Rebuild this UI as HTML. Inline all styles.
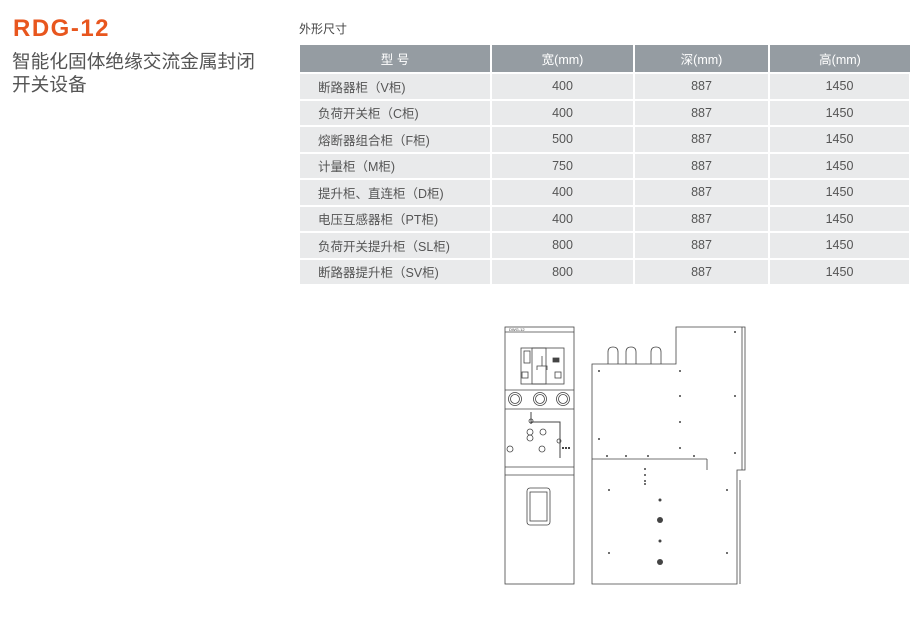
<!DOCTYPE html>
<html><head><meta charset="utf-8"><style>
body{margin:0;width:920px;height:618px;background:#fff;position:relative;overflow:hidden;font-family:"Liberation Sans","Noto Sans CJK SC",sans-serif;}
.t1{position:absolute;left:13px;top:15px;font-size:24px;font-weight:bold;color:#e8561e;letter-spacing:1.5px;}
.t2{position:absolute;left:12px;top:50px;font-size:18.7px;color:#555;line-height:23px;white-space:nowrap;}
.t3{position:absolute;left:299px;top:20px;font-size:12px;color:#444;}
table{position:absolute;left:300px;top:45px;border-collapse:collapse;font-size:12.5px;color:#555;}
td,th{height:24.5px;padding:0;border:2px solid #fff;border-top:0;border-left:0;text-align:center;background:#e9eaeb;}
th{background:#959ca2;color:#fff;font-weight:normal;height:27px;}
td.l{text-align:left;padding-left:18px;}
</style></head><body>
<div class="t1">RDG-12</div>
<div class="t2">智能化固体绝缘交流金属封闭<br>开关设备</div>
<div class="t3">外形尺寸</div>
<table>
<tr><th style="width:190px">型 号</th><th style="width:141px">宽(mm)</th><th style="width:133px">深(mm)</th><th style="width:140px;border-right:0">高(mm)</th></tr>
<tr><td class="l">断路器柜（V柜)</td><td>400</td><td>887</td><td>1450</td></tr>
<tr><td class="l">负荷开关柜（C柜)</td><td>400</td><td>887</td><td>1450</td></tr>
<tr><td class="l">熔断器组合柜（F柜)</td><td>500</td><td>887</td><td>1450</td></tr>
<tr><td class="l">计量柜（M柜)</td><td>750</td><td>887</td><td>1450</td></tr>
<tr><td class="l">提升柜、直连柜（D柜)</td><td>400</td><td>887</td><td>1450</td></tr>
<tr><td class="l">电压互感器柜（PT柜)</td><td>400</td><td>887</td><td>1450</td></tr>
<tr><td class="l">负荷开关提升柜（SL柜)</td><td>800</td><td>887</td><td>1450</td></tr>
<tr><td class="l">断路器提升柜（SV柜)</td><td>800</td><td>887</td><td>1450</td></tr>
</table>
<svg width="920" height="618" style="position:absolute;left:0;top:0" fill="none" stroke="#444" stroke-width="0.8">
<rect x="505" y="327" width="69" height="257"/>
<line x1="505" y1="332" x2="574" y2="332"/>
<text x="509" y="331" font-size="4" fill="#444" stroke="none">DWG-12</text>
<rect x="521" y="348" width="43" height="36"/>
<rect x="532" y="348" width="14" height="36"/>
<rect x="524" y="351" width="6" height="12"/>
<rect x="522" y="372" width="6" height="6"/><rect x="555" y="372" width="6" height="6"/>
<rect x="553" y="358" width="6" height="4" fill="#444"/>
<path d="M537 370v-4h10v4M542 366v-10"/>
<line x1="505" y1="390" x2="574" y2="390"/>
<line x1="505" y1="409" x2="574" y2="409"/>
<circle cx="515" cy="399" r="6.5"/><circle cx="540" cy="399" r="6.5"/><circle cx="563" cy="399" r="6.5"/>
<circle cx="515" cy="399" r="4.5"/><circle cx="540" cy="399" r="4.5"/><circle cx="563" cy="399" r="4.5"/>
<path d="M531 412v12M531 422h29v36" stroke-width="1"/>
<circle cx="531" cy="421" r="2"/>
<circle cx="530" cy="432" r="3"/><circle cx="530" cy="438" r="3"/>
<circle cx="543" cy="432" r="3"/><circle cx="542" cy="449" r="3"/>
<circle cx="510" cy="449" r="3"/>
<circle cx="559" cy="441" r="2"/>
<path d="M562 448h8" stroke-width="2" stroke-dasharray="2 1"/>
<line x1="505" y1="467" x2="574" y2="467"/><line x1="505" y1="475" x2="574" y2="475"/>
<rect x="527" y="488" width="23" height="37" rx="3"/>
<rect x="530" y="492" width="17" height="29"/>
<path d="M592 364h84v-37h69v143h-8v114H592z"/>
<line x1="592" y1="459" x2="707" y2="459"/>
<line x1="707" y1="459" x2="707" y2="470"/>
<path d="M608 364v-12q0-5 5-5t5 5v12M626 364v-12q0-5 5-5t5 5v12M651 364v-12q0-5 5-5t5 5v12"/>
<line x1="742" y1="327" x2="742" y2="470"/>
<line x1="740" y1="480" x2="740" y2="584"/>
<g fill="#444" stroke="none">
<circle cx="599" cy="371" r="1"/><circle cx="680" cy="371" r="1"/><circle cx="680" cy="396" r="1"/><circle cx="680" cy="422" r="1"/><circle cx="680" cy="448" r="1"/>
<circle cx="599" cy="439" r="1"/><circle cx="735" cy="396" r="1"/><circle cx="735" cy="453" r="1"/><circle cx="735" cy="332" r="1"/>
<circle cx="607" cy="456" r="1"/><circle cx="626" cy="456" r="1"/><circle cx="648" cy="456" r="1"/><circle cx="694" cy="456" r="1"/>
<circle cx="645" cy="469" r="1"/><circle cx="645" cy="475" r="1"/><circle cx="645" cy="481" r="1"/><circle cx="645" cy="484" r="1"/>
<circle cx="609" cy="490" r="1"/><circle cx="727" cy="490" r="1"/><circle cx="609" cy="553" r="1"/><circle cx="727" cy="553" r="1"/>
<circle cx="660" cy="500" r="1.5"/><circle cx="660" cy="520" r="3"/><circle cx="660" cy="541" r="1.5"/><circle cx="660" cy="562" r="3"/>
</g>
</svg>
</body></html>
